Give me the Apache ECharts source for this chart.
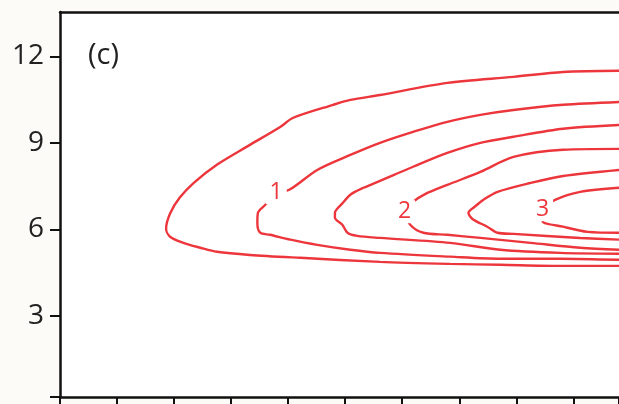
<!DOCTYPE html>
<html>
<head>
<meta charset="utf-8">
<script src="https://cdn.jsdelivr.net/npm/echarts@6/dist/echarts.min.js"></script>
<style>
  html, body { margin: 0; padding: 0; background: #fcfbf7; }
  #chart { width: 619px; height: 404px; }
</style>
</head>
<body>
<div id="chart"></div>
<script>
// Contour levels and their traced paths [x, y] (data units)
const levels = [0.5, 1, 1.5, 2, 2.5, 3];
const contour05 = [[9.81,11.50],[8.82,11.46],[7.95,11.29],[6.79,11.08],[5.61,10.66],[5.09,10.49],[4.79,10.32],[4.09,9.87],[3.86,9.55],[3.33,8.93],[2.75,8.24],[2.35,7.62],[2.10,7.10],[1.93,6.55],[1.86,6.02],[1.93,5.74],[2.16,5.53],[2.46,5.36],[2.75,5.22],[3.33,5.11],[4.21,5.01],[5.61,4.87],[6.84,4.80],[7.72,4.77],[8.77,4.73],[9.81,4.73]];
const contour10 = [[9.81,10.42],[8.82,10.32],[7.95,10.14],[7.37,9.97],[6.79,9.73],[6.19,9.38],[5.61,9.00],[5.09,8.58],[4.51,8.06],[4.02,7.37],[3.79,7.27],[3.60,6.85],[3.47,6.57],[3.46,6.22],[3.51,5.88],[3.68,5.81],[4.04,5.64],[4.51,5.46],[5.09,5.29],[5.61,5.18],[6.84,5.05],[7.72,4.98],[8.77,4.98],[9.81,4.94]];
const contour15 = [[9.81,9.62],[8.82,9.49],[7.95,9.21],[7.37,9.00],[6.79,8.65],[6.19,8.17],[5.61,7.68],[5.32,7.44],[5.09,7.20],[4.96,6.92],[4.82,6.57],[4.82,6.40],[4.95,6.16],[5.04,5.88],[5.21,5.77],[5.61,5.70],[6.84,5.53],[7.72,5.29],[8.77,5.18],[9.81,5.15]];
const contour20 = [[9.81,8.79],[8.82,8.76],[7.95,8.51],[7.37,7.99],[6.79,7.54],[6.40,7.22],[6.19,6.95],[6.05,6.61],[6.14,6.16],[6.37,5.88],[6.79,5.81],[7.37,5.70],[8.25,5.53],[9.12,5.36],[9.81,5.29]];
const contour25 = [[9.81,8.06],[8.82,7.85],[8.25,7.61],[7.67,7.30],[7.42,7.02],[7.28,6.80],[7.16,6.57],[7.23,6.36],[7.49,6.09],[7.67,5.88],[7.95,5.84],[9.12,5.70],[9.81,5.64]];
const contour30 = [[9.81,7.44],[9.12,7.30],[8.68,7.02],[8.46,6.68],[8.46,6.29],[8.82,6.09],[9.25,5.91],[9.81,5.88]];
// Contour labels
const labelTexts = ['1', '2', '3'];
const labelPoints = [[3.79, 7.27], [6.04, 6.61], [8.46, 6.68]];
// Axis ticks
const yTickValues = [3, 6, 9, 12];
const panelTitle = '(c)';

const contours = [contour05, contour10, contour15, contour20, contour25, contour30];
const RED = '#ec363c';
const FONT = 'Open Sans';

const chart = echarts.init(document.getElementById('chart'), null, { renderer: 'canvas' });
const series = contours.map((c, i) => ({
  type: 'line',
  name: 'level ' + levels[i],
  data: c,
  showSymbol: false,
  smooth: 0.3,
  lineStyle: { color: RED, width: 2.4, opacity: 1 },
  silent: true,
  z: 2
}));
series.push({
  type: 'scatter',
  data: labelPoints.map((p, i) => ({ value: p, name: labelTexts[i] })),
  symbolSize: 1,
  itemStyle: { opacity: 0 },
  z: 5,
  silent: true,
  label: {
    show: true,
    position: 'inside',
    formatter: p => p.name,
    color: RED,
    opacity: 1,
    fontFamily: FONT,
    fontSize: 23,
    backgroundColor: '#ffffff',
    padding: [0, 4, 0, 4]
  }
});

const yMin = 0.18, yMax = 13.54;
chart.setOption({
  animation: false,
  backgroundColor: '#fcfbf7',
  grid: { left: 60, right: 0, top: 12, bottom: 7, show: true, backgroundColor: '#ffffff', borderWidth: 0 },
  xAxis: [
    {
      type: 'value', min: 0, max: 9.8, interval: 1, position: 'bottom',
      axisLine: { show: true, lineStyle: { color: '#111', width: 2.5 } },
      axisTick: { show: true, inside: false, length: 8, lineStyle: { color: '#111', width: 2 } },
      axisLabel: { show: false },
      splitLine: { show: false }
    },
    {
      type: 'value', min: 0, max: 9.8, position: 'top',
      axisLine: { show: true, onZero: false, lineStyle: { color: '#111', width: 2.5 } },
      axisTick: { show: false }, axisLabel: { show: false }, splitLine: { show: false }
    }
  ],
  yAxis: {
    type: 'value', min: yMin, max: yMax,
    axisLine: { show: true, onZero: false, lineStyle: { color: '#111', width: 2.5 } },
    axisTick: { show: true, length: 10, customValues: [yMin].concat(yTickValues), lineStyle: { color: '#111', width: 2 } },
    axisLabel: { show: true, customValues: yTickValues, margin: 16, color: '#222', fontFamily: FONT, fontSize: 28 },
    splitLine: { show: false }
  },
  graphic: [{
    type: 'text', left: 88, top: 41,
    style: { text: panelTitle, fill: '#222', font: '29px "Open Sans"' }
  }],
  series: series
});
</script>
</body>
</html>
